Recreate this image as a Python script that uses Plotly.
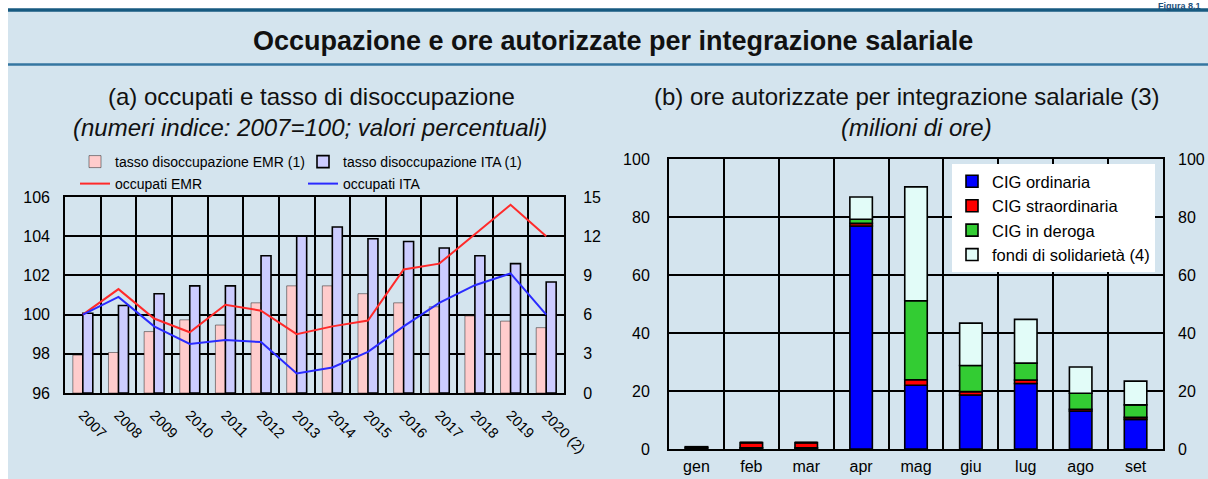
import plotly.graph_objects as go
import numpy as np

W, H = 1208, 479

# ---------------- data ----------------
anni = ["2007", "2008", "2009", "2010", "2011", "2012", "2013", "2014",
        "2015", "2016", "2017", "2018", "2019", "2020 (2)"]
occupati_emr = [100.0, 101.3, 99.8, 99.1, 100.5, 100.2, 99.0, 99.4,
                99.7, 102.3, 102.6, 104.1, 105.6, 104.0]
occupati_ita = [100.0, 100.9, 99.4, 98.5, 98.7, 98.6, 97.0, 97.3,
                98.1, 99.4, 100.6, 101.5, 102.1, 100.0]
disocc_emr = [2.9, 3.1, 4.7, 5.6, 5.2, 6.9, 8.2, 8.2, 7.6, 6.9, 6.6, 5.9, 5.5, 5.0]
disocc_ita = [6.1, 6.7, 7.6, 8.2, 8.2, 10.5, 12.0, 12.7, 11.8, 11.6, 11.1, 10.5, 9.9, 8.5]

mesi = ["gen", "feb", "mar", "apr", "mag", "giu", "lug", "ago", "set"]
cig_ordinaria = [0.4, 0.4, 0.4, 76.9, 22.0, 18.6, 22.6, 13.1, 10.2]
cig_straordinaria = [0.4, 1.8, 1.8, 0.9, 1.9, 1.2, 1.2, 0.6, 0.7]
cig_deroga = [0.0, 0.0, 0.0, 1.4, 27.2, 9.0, 5.8, 5.5, 4.3]
fondi_solidarieta = [0.0, 0.0, 0.0, 7.7, 39.3, 14.6, 15.1, 9.1, 8.2]

# ---------------- helpers ----------------
def px(x):
    return x / W

def py(y):
    return 1 - y / H

FONT = "Liberation Sans, Arial, sans-serif"
BG = "#d4e4ee"

fig = go.Figure()

# ---- panel (a): bars on base axis (right side), lines on overlay (left side)
fig.add_trace(go.Bar(
    x=anni, y=disocc_emr, name="tasso disoccupazione EMR (1)",
    marker=dict(color="#ffcccc", line=dict(color="rgba(0,0,0,0.55)", width=0.8)),
    offset=-0.28, width=0.28, xaxis="x", yaxis="y", legend="legend"))
fig.add_trace(go.Bar(
    x=anni, y=disocc_ita, name="tasso disoccupazione ITA (1)",
    marker=dict(color="#ccccff", line=dict(color="black", width=1.6)),
    offset=0.0, width=0.28, xaxis="x", yaxis="y", legend="legend"))
fig.add_trace(go.Scatter(
    x=anni, y=occupati_emr, name="occupati EMR", mode="lines",
    line=dict(color="#ff2a2a", width=2), xaxis="x", yaxis="y2", legend="legend3"))
fig.add_trace(go.Scatter(
    x=anni, y=occupati_ita, name="occupati ITA", mode="lines",
    line=dict(color="#2a2aff", width=2), xaxis="x", yaxis="y2", legend="legend3"))

# ---- panel (b): stacked bars via base
series_b = [
    ("CIG ordinaria", cig_ordinaria, "#0000ff"),
    ("CIG straordinaria", cig_straordinaria, "#ff0000"),
    ("CIG in deroga", cig_deroga, "#33cc33"),
    ("fondi di solidarietà (4)", fondi_solidarieta, "#e2fcf8"),
]
base = np.zeros(len(mesi))
for name, vals, col in series_b:
    fig.add_trace(go.Bar(
        x=mesi, y=vals, base=base.copy(), name=name,
        marker=dict(color=col, line=dict(color="black", width=1.6)),
        offset=-0.205, width=0.41, xaxis="x2", yaxis="y3", legend="legend2"))
    base = base + np.array(vals)
# dummy trace to carry the right-hand mirrored axis of panel (b)
fig.add_trace(go.Scatter(x=[], y=[], xaxis="x2", yaxis="y4", showlegend=False,
                         hoverinfo="skip"))

tickfont = dict(family=FONT, size=16, color="black")

fig.update_layout(
    width=W, height=H, autosize=False,
    margin=dict(l=0, r=0, t=0, b=0, pad=0, autoexpand=False),
    paper_bgcolor="white", plot_bgcolor="white",
    barmode="overlay",
    font=dict(family=FONT, color="black"),
    xaxis=dict(domain=[px(65), px(564)], type="category", tickson="boundaries",
               showgrid=True, gridcolor="black", gridwidth=2,
               showline=True, linecolor="black", linewidth=2, mirror=True,
               ticks="", tickangle=45, tickfont=dict(family=FONT, size=14.5, color="black"),
               ticklabelstandoff=6, anchor="y", automargin=False),
    yaxis=dict(domain=[py(393), py(197)], range=[0, 15], dtick=3, side="right",
               showgrid=True, gridcolor="black", gridwidth=2, zeroline=False,
               showline=True, linecolor="black", linewidth=2, mirror=True,
               ticks="", tickfont=tickfont, ticklabelstandoff=14, anchor="x",
               automargin=False),
    yaxis2=dict(range=[96, 106], dtick=2, side="left", overlaying="y",
                showgrid=False, zeroline=False, showline=False,
                ticks="", tickfont=tickfont, ticklabelstandoff=14, anchor="x",
                automargin=False),
    xaxis2=dict(domain=[px(669), px(1163)], type="category", tickson="boundaries",
                showgrid=True, gridcolor="black", gridwidth=1.6,
                showline=True, linecolor="black", linewidth=2, mirror=True,
                ticks="", tickfont=tickfont, ticklabelstandoff=2, anchor="y3",
                automargin=False),
    yaxis3=dict(domain=[py(449), py(159)], range=[0, 100], dtick=20, side="left",
                showgrid=True, gridcolor="black", gridwidth=1.6, zeroline=False,
                showline=True, linecolor="black", linewidth=2, mirror=True,
                ticks="", tickfont=tickfont, ticklabelstandoff=14, anchor="x2",
                automargin=False),
    yaxis4=dict(range=[0, 100], dtick=20, side="right", overlaying="y3",
                showgrid=False, zeroline=False, showline=False,
                ticks="", tickfont=tickfont, ticklabelstandoff=14, anchor="x2",
                automargin=False),
    legend=dict(orientation="h", x=px(75), y=py(162), xanchor="left", yanchor="middle",
                entrywidth=183, bgcolor="rgba(0,0,0,0)",
                font=dict(family=FONT, size=14, color="black"), traceorder="normal"),
    legend3=dict(orientation="h", x=px(75), y=py(184), xanchor="left", yanchor="middle",
                 entrywidth=183, bgcolor="rgba(0,0,0,0)",
                 font=dict(family=FONT, size=14, color="black"), traceorder="normal"),
    legend2=dict(orientation="v", x=px(952), y=py(164), xanchor="left", yanchor="top",
                 bgcolor="white", borderwidth=0, traceorder="normal",
                 font=dict(family=FONT, size=16.5, color="black")),
    showlegend=True,
)

# ---------------- background decoration ----------------
shapes = [
    dict(type="rect", xref="paper", yref="paper", x0=px(8), x1=1.0, y0=0, y1=py(10),
         fillcolor=BG, line=dict(width=0), layer="below"),
    dict(type="line", xref="paper", yref="paper", x0=px(8), x1=1.0, y0=py(10), y1=py(10),
         line=dict(color="#175a80", width=3.5), layer="below"),
    dict(type="line", xref="paper", yref="paper", x0=px(8), x1=1.0, y0=py(64.5), y1=py(64.5),
         line=dict(color="#3576a0", width=2.5), layer="below"),
]
fig.update_layout(shapes=shapes)

annotations = [
    dict(text="<b>Occupazione e ore autorizzate per integrazione salariale</b>",
         x=px(613), y=py(41), xref="paper", yref="paper", showarrow=False,
         xanchor="center", yanchor="middle", font=dict(family=FONT, size=27, color="#111")),
    dict(text="(a) occupati e tasso di disoccupazione",
         x=px(311), y=py(97), xref="paper", yref="paper", showarrow=False,
         xanchor="center", yanchor="middle", font=dict(family=FONT, size=24, color="#111")),
    dict(text="<i>(numeri indice: 2007=100; valori percentuali)</i>",
         x=px(310), y=py(127), xref="paper", yref="paper", showarrow=False,
         xanchor="center", yanchor="middle", font=dict(family=FONT, size=24, color="#111")),
    dict(text="(b) ore autorizzate per integrazione salariale (3)",
         x=px(907), y=py(97), xref="paper", yref="paper", showarrow=False,
         xanchor="center", yanchor="middle", font=dict(family=FONT, size=24, color="#111")),
    dict(text="<i>(milioni di ore)</i>",
         x=px(916), y=py(127), xref="paper", yref="paper", showarrow=False,
         xanchor="center", yanchor="middle", font=dict(family=FONT, size=24, color="#111")),
    dict(text="<b>Figura 8.1</b>",
         x=px(1202), y=1.0, xref="paper", yref="paper", showarrow=False,
         xanchor="right", yanchor="top", borderpad=0,
         font=dict(family=FONT, size=9, color="#1b4f7a")),
]
fig.update_layout(annotations=annotations)

fig.write_html("out.html",
               config={"displayModeBar": False, "responsive": False},
               post_script="document.body.style.margin='0';document.body.style.overflow='hidden';")
